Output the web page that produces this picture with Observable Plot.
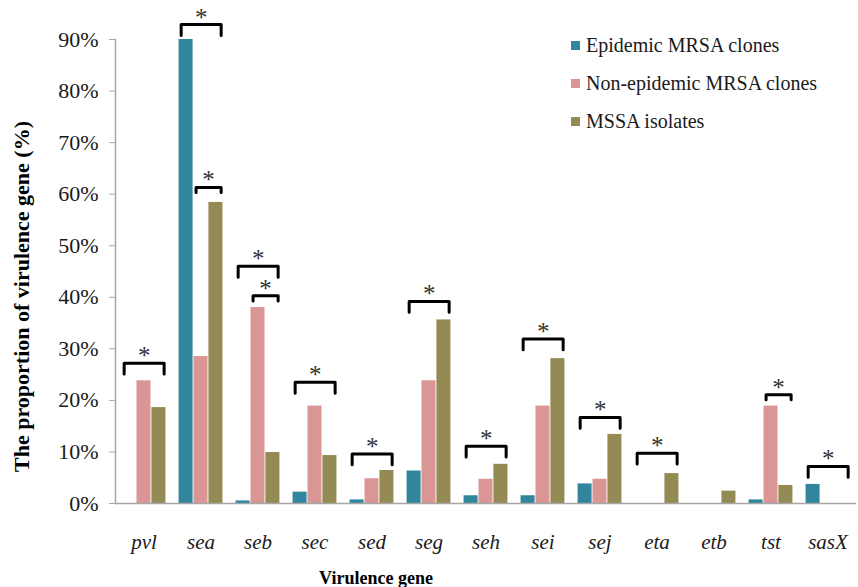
<!DOCTYPE html>
<html><head><meta charset="utf-8">
<script src="https://cdn.jsdelivr.net/npm/d3@7"></script>
<script src="https://cdn.jsdelivr.net/npm/@observablehq/plot@0.6"></script>
<style>
body{margin:0;background:#fff;}
#wrap{position:relative;width:858px;height:587px;}
#legend{position:absolute;left:571px;top:26px;font-family:'Liberation Serif','Times New Roman',Times,'DejaVu Serif',serif;font-size:20px;color:#1a1a1a;}
.item{display:flex;align-items:center;height:38px;}
.sw{width:9px;height:9px;margin-right:6px;}
svg text{font-family:'Liberation Serif','Times New Roman',Times,'DejaVu Serif',serif;}
</style></head>
<body><div id="wrap"><div id="chart"></div><div id="legend"></div></div>
<script>
const genes = ["pvl","sea","seb","sec","sed","seg","seh","sei","sej","eta","etb","tst","sasX"];
const series = ["Epidemic MRSA clones","Non-epidemic MRSA clones","MSSA isolates"];
const colors = ["#31859C","#D99694","#948A54"];
const epidemic    = [0, 90, 0.5, 2.2, 0.7, 6.3, 1.5, 1.5, 3.8, 0, 0, 0.7, 3.7];
const nonEpidemic = [23.8, 28.5, 38.0, 18.9, 4.8, 23.8, 4.7, 18.9, 4.7, 0, 0, 18.9, 0];
const mssa        = [18.6, 58.4, 9.9, 9.3, 6.4, 35.6, 7.6, 28.1, 13.4, 5.8, 2.4, 3.5, 0];
const yTicks = [0,10,20,30,40,50,60,70,80,90];

// significance brackets: gene, first series, last series, bracket level (%)
const bracketGene  = ["pvl","sea","sea","seb","seb","sec","sed","seg","seh","sei","sej","eta","tst","sasX"];
const bracketFrom  = [0,0,1,0,1,0,0,0,0,0,0,0,1,0];
const bracketTo    = [2,2,2,2,2,2,2,2,2,2,2,2,2,2];
const bracketLevel = [27.2,92.9,61.3,46.0,40.3,23.5,9.6,39.2,11.1,31.9,16.7,9.75,21.1,7.2];

const values = [epidemic, nonEpidemic, mssa];
const rows = [];
genes.forEach((g,i)=>series.forEach((s,j)=>rows.push({gene:g, s:j, series:s, value:values[j][i]})));

const bracketPts = [];
const stars = [];
bracketGene.forEach((g,k)=>{
  const xl = bracketFrom[k]-0.33, xr = bracketTo[k]+0.35;
  const lv = bracketLevel[k];
  const depth = (bracketTo[k]-bracketFrom[k]) > 1 ? 2.1 : 1.0;
  [[xl,lv-depth],[xl,lv],[xr,lv],[xr,lv-depth]].forEach(([x,y])=>bracketPts.push({gene:g,id:k,x,y}));
  stars.push({gene:g, x:(xl+xr)/2, y:lv});
});

const serif = "'Liberation Serif','Times New Roman',Times,'DejaVu Serif',serif";
const chart = Plot.plot({
  width: 858, height: 587,
  marginLeft: 113, marginRight: 0, marginTop: 39, marginBottom: 84,
  style: {fontFamily: serif, background: "#fff"},
  fx: {domain: genes, padding: 0},
  x: {domain: [-0.91, 2.91], axis: null},
  y: {domain: [0, 90]},
  color: {domain: series, range: colors},
  marks: [
    Plot.rectY(rows, {fx:"gene", x1: d=>d.s-0.47, x2: d=>d.s+0.47, y:"value", fill:"series"}),
    Plot.ruleY([0], {stroke:"#a6a6a6", strokeWidth:1.5}),
    Plot.frame({anchor:"left", facet:"super", stroke:"#a6a6a6", strokeWidth:1.5}),
    Plot.axisY({ticks: yTicks, tickFormat: d=>d+"%", tickSize: 6, tickPadding: 11, fontSize: 22, stroke:"#a6a6a6", fill:"#1a1a1a", label: null}),
    Plot.axisFx({anchor:"bottom", tickSize: 0, tickPadding: 31, fontSize: 21, fontStyle: "italic", fill:"#1a1a1a", label: null}),
    Plot.line(bracketPts, {fx:"gene", x:"x", y:"y", z:"id", stroke:"#000", strokeWidth:3, strokeLinejoin:"round", strokeLinecap:"round"}),
    Plot.text(stars, {fx:"gene", x:"x", y:"y", text: ()=>"*", fontSize: 25, dy: -7, fill:"#333"}),
    Plot.text(["The proportion of virulence gene (%)"], {facet:"super", frameAnchor:"left", textAnchor:"middle", lineAnchor:"middle", rotate:-90, dx:-94, dy:25, fontSize:22, fontWeight:"bold", fill:"#000"}),
    Plot.text(["Virulence gene"], {facet:"super", frameAnchor:"bottom", textAnchor:"middle", lineAnchor:"middle", dx:-110, dy:75, fontSize:18, fontWeight:"bold", fill:"#000"})
  ]
});
document.getElementById("chart").appendChild(chart);

const leg = document.getElementById("legend");
series.forEach((s,j)=>{
  const it = document.createElement("div"); it.className="item";
  const sw = document.createElement("span"); sw.className="sw"; sw.style.background=colors[j];
  it.appendChild(sw); it.appendChild(document.createTextNode(s)); leg.appendChild(it);
});
</script>
</body></html>
